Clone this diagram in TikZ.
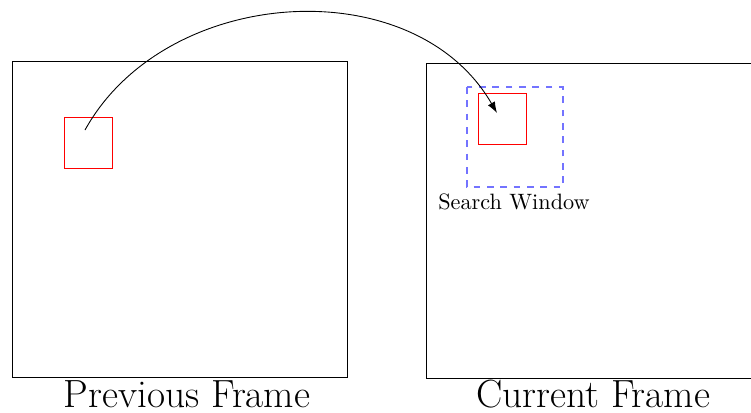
\documentclass[tikz,border=0pt]{standalone}
\usetikzlibrary{positioning,arrows.meta}
\begin{document}
\begin{tikzpicture}[
            x=0.45pt, y=-0.45pt,
            frame/.style={draw=black},
            block/.style={draw=red},
            window/.style={draw=blue!55, dashed, thick},
            caption/.style={font=\fontsize{17.7}{21}\selectfont, anchor=base, inner sep=0pt},
            wintext/.style={font=\normalsize, anchor=base, inner sep=0pt}
          ]
          \clip (0,0) rectangle (751,412);

          % Frames
          \draw[frame] (12,61) rectangle (347,377);
          \draw[frame] (426,63) rectangle (761,378);

          % Blocks and search window
          \draw[block] (64,117) rectangle (112,168);
          \draw[window] (467,87) rectangle (563,187);
          \draw[block] (478,93) rectangle (526,144);

          % Labels
          \node[caption] (prevtext) at (187,407) {Previous Frame};
          \node[caption] (curtext) at (593,407) {Current Frame};
          \node[wintext] (wintext) at (514,209) {Search Window};

          % Motion arrow
          \coordinate (src) at (85,130);
          \coordinate (dst) at (497,113);
          \draw[-{Latex[length=5pt,width=3.6pt]}] (src) to[out=61, in=120, looseness=1.03] (dst);

        \end{tikzpicture}
\end{document}
